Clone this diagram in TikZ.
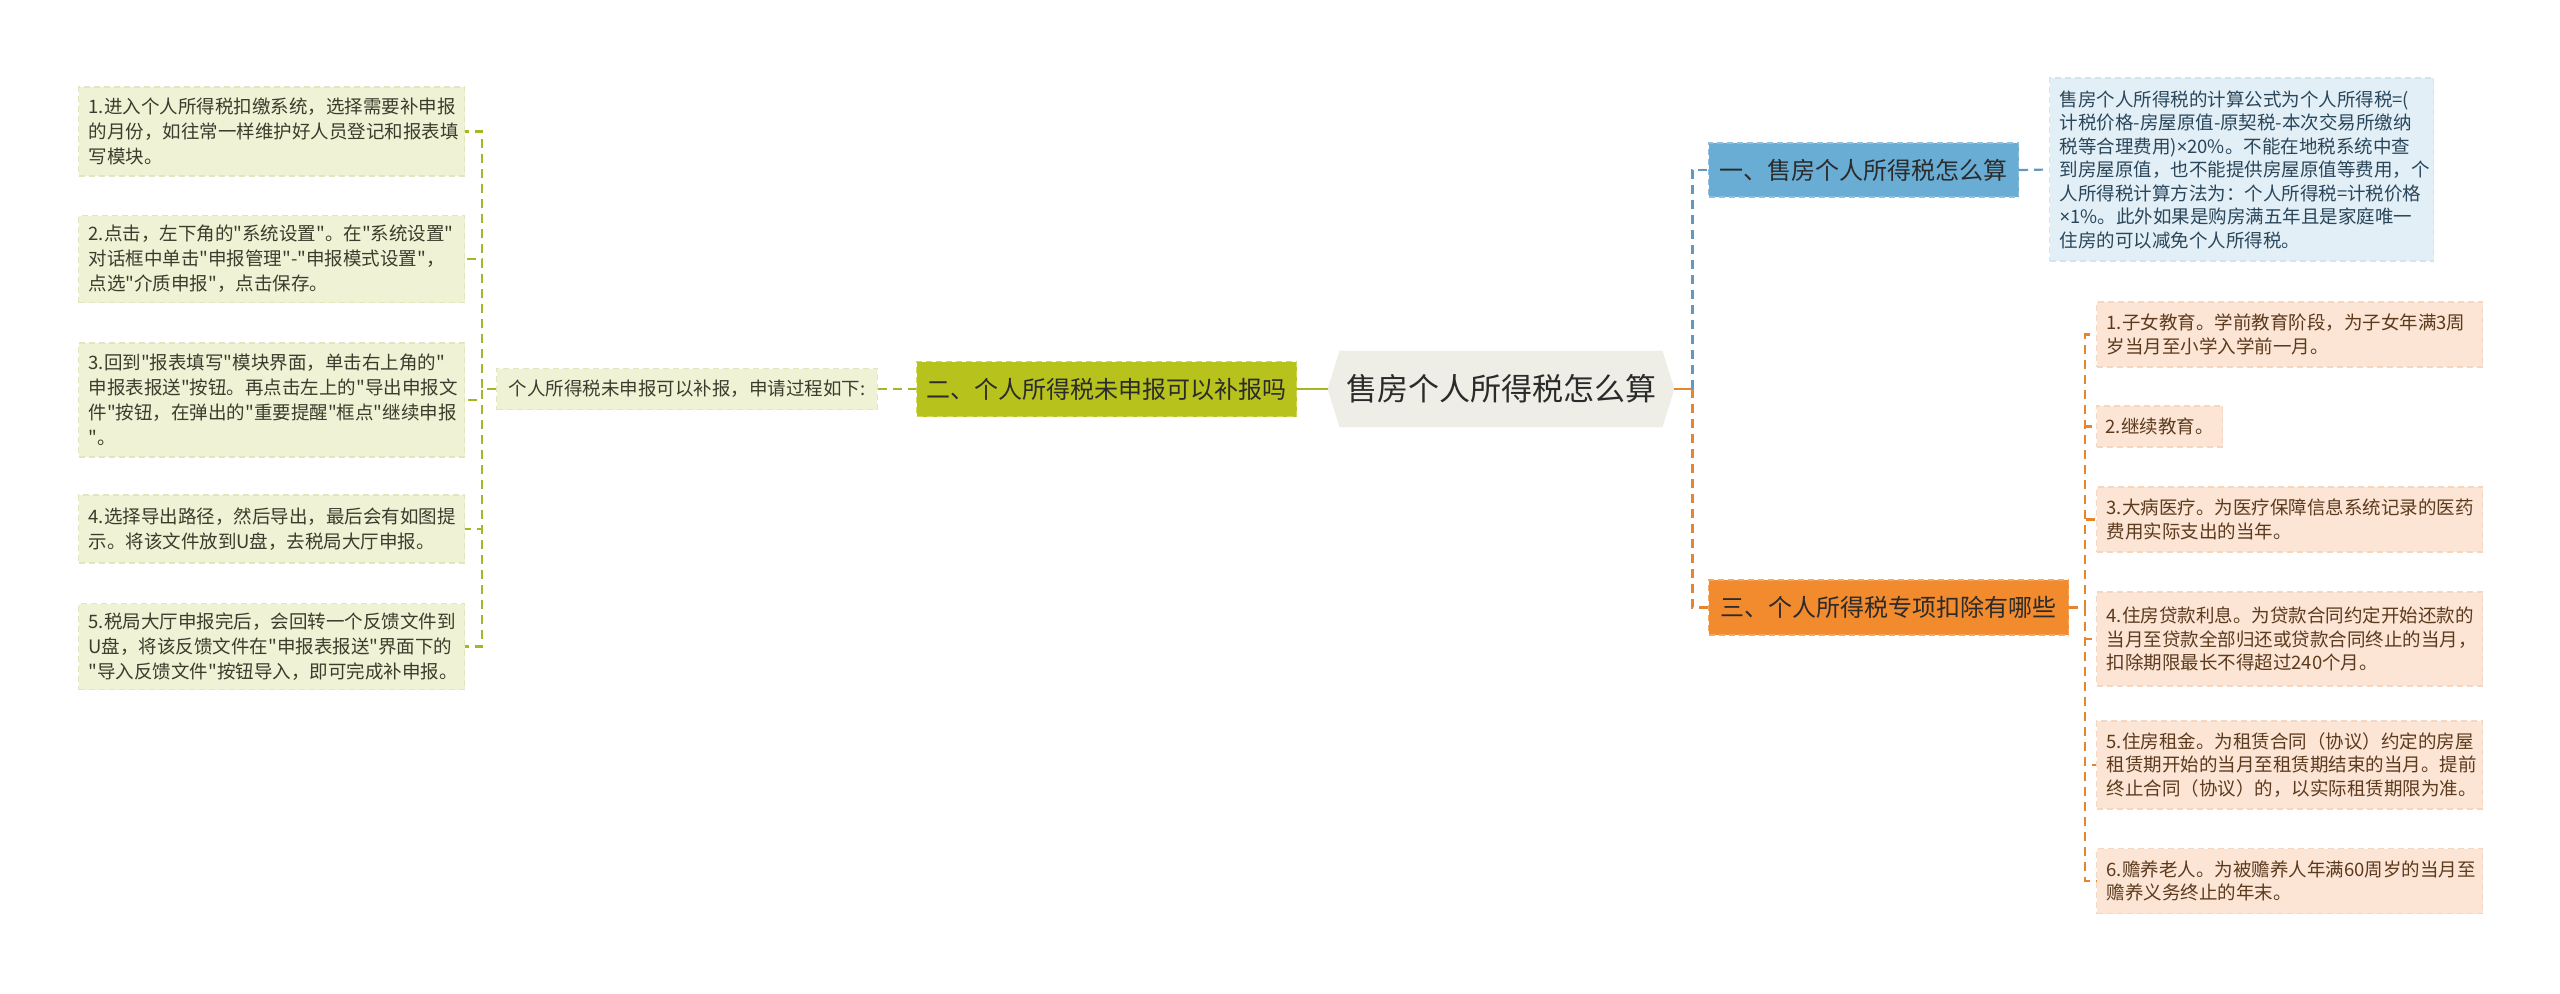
\documentclass[tikz,border=0pt]{standalone}
\usepackage{fontspec}
\setmainfont{Noto Sans CJK SC}[Ligatures=TeXOff]
\newfontfamily\latfont{Noto Sans}[Ligatures=TeXOff]
\newcommand{\mtimes}{{\latfont ×}}
\usetikzlibrary{backgrounds,calc}

\definecolor{gfill}{HTML}{B8C21C}
\definecolor{gborder}{HTML}{D2D85A}
\definecolor{gline}{HTML}{A6B624}
\definecolor{lfill}{HTML}{F0F2D6}
\definecolor{lborder}{HTML}{E2E6BC}
\definecolor{ltext}{HTML}{3C3C2C}
\definecolor{hexfill}{HTML}{EEEEE6}
\definecolor{bfill}{HTML}{69ADD4}
\definecolor{bborder}{HTML}{8CC0DE}
\definecolor{bline}{HTML}{6498BE}
\definecolor{bnfill}{HTML}{E2EFF7}
\definecolor{bnborder}{HTML}{D2E4F0}
\definecolor{bntext}{HTML}{2A465A}
\definecolor{ofill}{HTML}{F28A2E}
\definecolor{oborder}{HTML}{F6A860}
\definecolor{oline}{HTML}{E5852F}
\definecolor{onfill}{HTML}{FCE5D4}
\definecolor{onborder}{HTML}{F5D6C0}
\definecolor{ontext}{HTML}{5C3A1E}
\definecolor{tdark}{HTML}{2B2B2B}

\tikzset{
  smallfont/.style={font=\fontsize{9.25pt}{12.5pt}\selectfont},
  midfont/.style={font=\fontsize{9.25pt}{11.75pt}\selectfont},
  bigfont/.style={font=\fontsize{12pt}{14pt}\selectfont},
  lbox/.style={rectangle, fill=lfill, draw=lborder, dash pattern=on 3pt off 2pt, line width=0.6pt,
    text=ltext, align=left, text width=183pt, inner xsep=5pt, inner ysep=0pt, anchor=west, smallfont},
  gnote/.style={rectangle, fill=lfill, draw=lborder, dash pattern=on 3pt off 2pt, line width=0.6pt,
    text=ltext, inner xsep=6pt, inner ysep=0pt, minimum height=20.5pt, anchor=west, smallfont},
  gnode/.style={rectangle, fill=gfill, draw=gborder, dash pattern=on 3pt off 2pt, line width=0.6pt,
    text=tdark, inner xsep=5pt, inner ysep=0pt, minimum height=27.5pt, anchor=west, bigfont},
  bnode/.style={rectangle, fill=bfill, draw=bborder, dash pattern=on 3pt off 2pt, line width=0.6pt,
    text=tdark, inner xsep=5.5pt, inner ysep=0pt, minimum height=27pt, anchor=west, bigfont},
  bnote/.style={rectangle, fill=bnfill, draw=bnborder, dash pattern=on 3pt off 2pt, line width=0.6pt,
    text=bntext, align=left, text width=182pt, inner xsep=5pt, inner ysep=0pt, anchor=west, midfont},
  onode/.style={rectangle, fill=ofill, draw=oborder, dash pattern=on 3pt off 2pt, line width=0.6pt,
    text=tdark, inner xsep=6pt, inner ysep=0pt, minimum height=27.5pt, anchor=west, bigfont},
  obox/.style={rectangle, fill=onfill, draw=onborder, dash pattern=on 3pt off 2pt, line width=0.6pt,
    text=ontext, align=left, text width=183pt, inner xsep=5pt, inner ysep=0pt, anchor=west, midfont},
  hexnode/.style={rectangle, minimum width=173pt, minimum height=38pt, inner sep=0pt,
    text=tdark, font=\fontsize{15.5pt}{18pt}\selectfont},
  gsolid/.style={draw=gline, line width=1.4pt},
  osolid/.style={draw=oline, line width=1.4pt},
  gdash/.style={draw=gline, line width=1.1pt, dash pattern=on 4.5pt off 3pt},
  bdash/.style={draw=bline, line width=1.1pt, dash pattern=on 4.5pt off 3pt},
  odash/.style={draw=oline, line width=1.1pt, dash pattern=on 4.5pt off 3pt},
}

\begin{document}
\begin{tikzpicture}[x=0.5pt,y=-0.5pt]
\useasboundingbox (0,0) rectangle (2560,993);
\begin{pgfonlayer}{background}
\fill[white] (0,0) rectangle (2560,993);
\end{pgfonlayer}

% central node
\node[hexnode] (c) at (1501,389) {售房个人所得税怎么算};

% left branch
\node[gnode] (g) at (916,389) {二、个人所得税未申报可以补报吗};
\node[gnote] (n) at (496,389) {个人所得税未申报可以补报，申请过程如下:};

\node[lbox, minimum height=44.5pt] (s1) at (78,131.5) {1.进入个人所得税扣缴系统，选择需要补申报\\的月份，如往常一样维护好人员登记和报表填\\写模块。};
\node[lbox, minimum height=43.5pt] (s2) at (78,259) {2.点击，左下角的"系统设置"。在"系统设置"\\对话框中单击"申报管理"-"申报模式设置"，\\点选"介质申报"，点击保存。};
\node[lbox, minimum height=57pt] (s3) at (78,400) {3.回到"报表填写"模块界面，单击右上角的"\\申报表报送"按钮。再点击左上的"导出申报文\\件"按钮，在弹出的"重要提醒"框点"继续申报\\"。};
\node[lbox, minimum height=34pt] (s4) at (78,529) {4.选择导出路径，然后导出，最后会有如图提\\示。将该文件放到U盘，去税局大厅申报。};
\node[lbox, minimum height=43pt] (s5) at (78,646.5) {5.税局大厅申报完后，会回转一个反馈文件到\\U盘，将该反馈文件在"申报表报送"界面下的\\"导入反馈文件"按钮导入，即可完成补申报。};

% right branches
\node[bnode] (b) at (1708,170) {一、售房个人所得税怎么算};
\node[bnote, minimum height=91.5pt] (bn) at (2049,169.5) {售房个人所得税的计算公式为个人所得税=(\\计税价格-房屋原值-原契税-本次交易所缴纳\\税等合理费用)\mtimes 20\%。不能在地税系统中查\\到房屋原值，也不能提供房屋原值等费用，个\\人所得税计算方法为：个人所得税=计税价格\\\mtimes 1\%。此外如果是购房满五年且是家庭唯一\\住房的可以减免个人所得税。};

\node[onode] (o) at (1708,607.5) {三、个人所得税专项扣除有哪些};
\node[obox, minimum height=32.5pt] (o1) at (2096,334.5) {1.子女教育。学前教育阶段，为子女年满3周\\岁当月至小学入学前一月。};
\node[obox, minimum height=20.5pt, text width=54pt, inner xsep=4.5pt] (o2) at (2096,426.5) {2.继续教育。};
\node[obox, minimum height=32.5pt] (o3) at (2096,519.5) {3.大病医疗。为医疗保障信息系统记录的医药\\费用实际支出的当年。};
\node[obox, minimum height=47pt] (o4) at (2096,639) {4.住房贷款利息。为贷款合同约定开始还款的\\当月至贷款全部归还或贷款合同终止的当月，\\扣除期限最长不得超过240个月。};
\node[obox, minimum height=44pt] (o5) at (2096,765) {5.住房租金。为租赁合同（协议）约定的房屋\\租赁期开始的当月至租赁期结束的当月。提前\\终止合同（协议）的，以实际租赁期限为准。};
\node[obox, minimum height=32.5pt] (o6) at (2096,881) {6.赡养老人。为被赡养人年满60周岁的当月至\\赡养义务终止的年末。};

\begin{pgfonlayer}{background}
% hexagon background
\fill[hexfill] (c.west) -- ($(c.north west)+(12,0)$) -- ($(c.north east)+(-12,0)$) -- (c.east)
  -- ($(c.south east)+(-12,0)$) -- ($(c.south west)+(12,0)$) -- cycle;

% left connectors
\draw[gsolid] (g.east) -- (c.west);
\draw[gdash] (n.east) -- (g.west);
\foreach \s in {s1,s2,s3,s4,s5}
  \draw[gdash] (n.west) -- ++(-14,0) |- (\s.east);

% right connectors
\draw[osolid] (c.east) -- ++(18,0) coordinate (rj);
\draw[bdash] (rj) |- (b.west);
\draw[odash] (rj) |- (o.west);
\draw[bdash] (b.east) -- (bn.west);
\foreach \s in {o1,o2,o3,o4,o5,o6}
  \draw[odash] (o.east) -- ++(16,0) |- (\s.west);
\end{pgfonlayer}
\end{tikzpicture}
\end{document}
